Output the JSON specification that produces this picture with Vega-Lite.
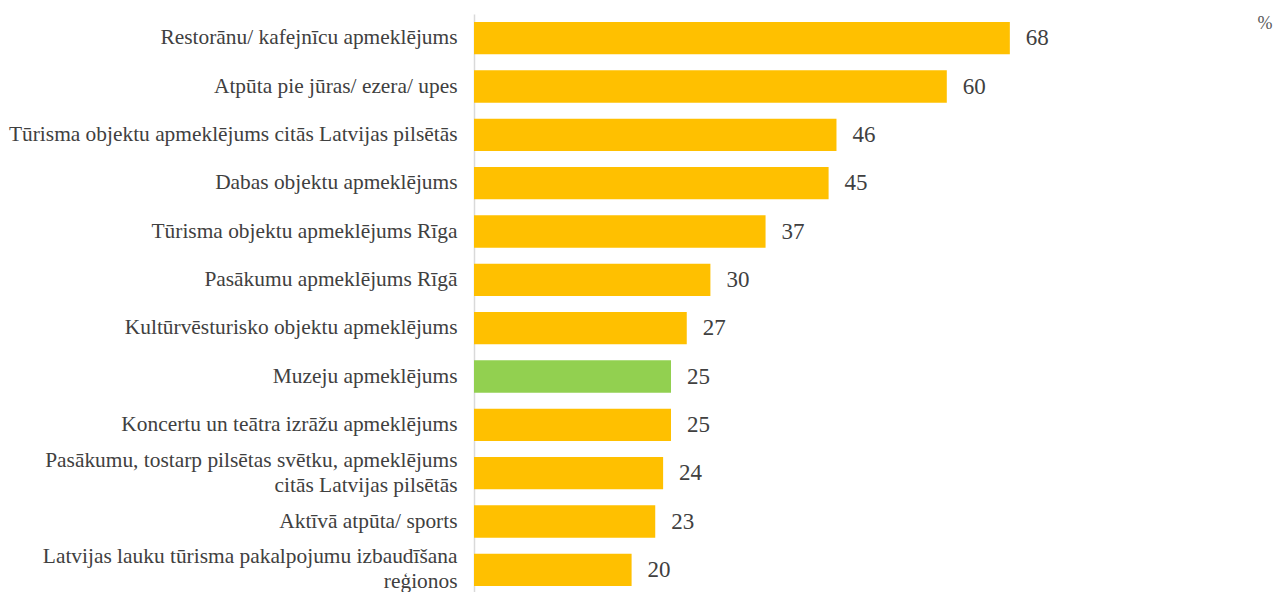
{
  "$schema": "https://vega.github.io/schema/vega-lite/v6.json",
  "width": 788,
  "height": 580,
  "autosize": {"type": "none"},
  "padding": {"left": 474, "top": 14, "right": 14, "bottom": 0},
  "background": "#ffffff",
  "config": {"view": {"stroke": null}, "font": "Liberation Serif"},
  "data": {"values": [
    {"category": "Restorānu/ kafejnīcu apmeklējums", "value": 68},
    {"category": "Atpūta pie jūras/ ezera/ upes", "value": 60},
    {"category": "Tūrisma objektu apmeklējums citās Latvijas pilsētās", "value": 46},
    {"category": "Dabas objektu apmeklējums", "value": 45},
    {"category": "Tūrisma objektu apmeklējums Rīga", "value": 37},
    {"category": "Pasākumu apmeklējums Rīgā", "value": 30},
    {"category": "Kultūrvēsturisko objektu apmeklējums", "value": 27},
    {"category": "Muzeju apmeklējums", "value": 25},
    {"category": "Koncertu un teātra izrāžu apmeklējums", "value": 25},
    {"category": "Pasākumu, tostarp pilsētas svētku, apmeklējums|citās Latvijas pilsētās", "value": 24},
    {"category": "Aktīvā atpūta/ sports", "value": 23},
    {"category": "Latvijas lauku tūrisma pakalpojumu izbaudīšana|reģionos", "value": 20}
  ]},
  "encoding": {
    "y": {"field": "category", "type": "nominal", "sort": null,
      "scale": {"paddingInner": 0.33, "paddingOuter": 0.165},
      "axis": {"title": null, "ticks": false, "domain": true, "domainColor": "#d9d9d9", "domainWidth": 1.5,
        "labelExpr": "split(datum.label, '|')", "labelLineHeight": 25, "labelFont": "Liberation Serif", "labelFontSize": 21.4,
        "labelOffset": {"condition": {"test": "indexof(datum.value, '|') >= 0", "value": -12.5}, "value": 0},
        "labelColor": "#404040", "labelPadding": 17, "labelLimit": 0}},
    "x": {"field": "value", "type": "quantitative", "scale": {"domain": [0, 100]},
      "axis": {"orient": "top", "title": "%", "labels": false, "ticks": false, "domain": false, "grid": false,
        "titleX": 798, "titleY": 14, "titleAlign": "right", "titleAnchor": "end", "titleBaseline": "alphabetic",
        "titleFont": "Liberation Serif", "titleFontSize": 18, "titleFontWeight": "normal", "titleColor": "#595959"}}
  },
  "layer": [
    {"mark": {"type": "bar"},
      "encoding": {"color": {"condition": {"test": "datum.category === 'Muzeju apmeklējums'", "value": "#92D050"}, "value": "#FFC000"}}},
    {"mark": {"type": "text", "align": "left", "baseline": "middle", "dx": 16, "font": "Liberation Serif", "fontSize": 23, "color": "#404040"},
      "encoding": {"text": {"field": "value", "type": "quantitative"}}}
  ]
}
